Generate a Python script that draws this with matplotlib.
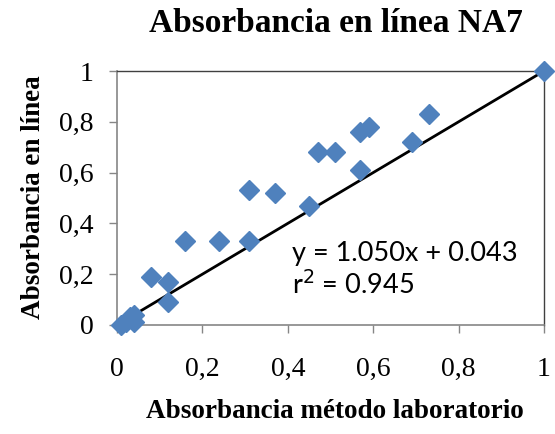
import matplotlib
matplotlib.use("Agg")
import matplotlib.pyplot as plt
from matplotlib.ticker import FuncFormatter

# lab method vs in-line absorbance
lab_x = [0.01, 0.02, 0.03, 0.04, 0.04, 0.08, 0.12, 0.12, 0.16, 0.24, 0.31, 0.31,
         0.37, 0.45, 0.47, 0.51, 0.57, 0.57, 0.59, 0.69, 0.73, 1.00]
linea_y = [0.00, 0.01, 0.03, 0.04, 0.01, 0.19, 0.17, 0.09, 0.33, 0.33, 0.33, 0.53,
           0.52, 0.47, 0.68, 0.68, 0.61, 0.76, 0.78, 0.72, 0.83, 1.00]

# trend line end points
trend_x = [0.02, 1.00]
trend_y = [0.02, 1.00]

ticks = [0, 0.2, 0.4, 0.6, 0.8, 1]

serif = ["Liberation Serif", "DejaVu Serif"]
sans = ["Lato", "DejaVu Sans"]

fig = plt.figure(figsize=(5.55, 4.34), dpi=100)
ax = fig.add_axes([0.2108, 0.2512, 0.7694, 0.5852])

ax.plot(trend_x, trend_y, color="black", lw=2, zorder=2)
ax.plot(lab_x, linea_y, linestyle="none", marker="D", ms=10,
        color="#4F81BD", markeredgecolor="#4F81BD", zorder=3, clip_on=False)

ax.set_xlim(0, 1)
ax.set_ylim(0, 1)
ax.set_xticks(ticks)
ax.set_yticks(ticks)
fmt = FuncFormatter(lambda v, p: ("%g" % v).replace(".", ","))
ax.xaxis.set_major_formatter(fmt)
ax.yaxis.set_major_formatter(fmt)
ax.tick_params(direction="out", length=6, color="#868686", width=1,
               labelsize=20)
ax.tick_params(axis="y", pad=11)
ax.tick_params(axis="x", pad=17)
for lab in ax.get_xticklabels() + ax.get_yticklabels():
    lab.set_family(serif)
for side in ["left", "bottom"]:
    ax.spines[side].set_color("#868686")
    ax.spines[side].set_linewidth(1.2)
for side in ["top", "right"]:
    ax.spines[side].set_color("#404040")
    ax.spines[side].set_linewidth(1)

fig.text(0.605, 0.945, "Absorbancia en línea NA7", ha="center", va="center",
         fontsize=24, fontweight="bold", family=serif)
fig.text(0.603, 0.051, "Absorbancia método laboratorio", ha="center", va="center",
         fontsize=19.5, fontweight="bold", family=serif)
fig.text(0.06, 0.545, "Absorbancia en línea", ha="center", va="center",
         rotation=90, fontsize=19.5, fontweight="bold", family=serif)

ax.text(0.41, 0.28, "y = 1.050x + 0.043", fontsize=19.5, family=sans, va="center")
ax.text(0.41, 0.157, "r$^2$ = 0.945", fontsize=19.5, family=sans, va="center")

fig.savefig("out.png", dpi=100)
